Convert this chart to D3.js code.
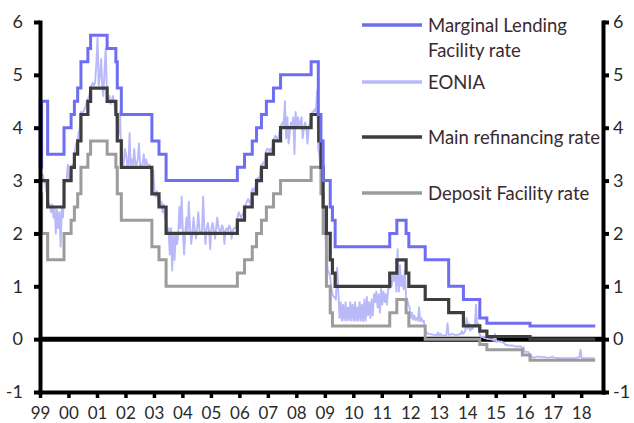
<!DOCTYPE html>
<html>
<head>
<meta charset="utf-8">
<script src="https://cdn.jsdelivr.net/npm/d3@7"></script>
<style>
  body { margin: 0; background: #fff; }
  svg { display: block; font-family: Lato, "Liberation Sans", sans-serif; }
</style>
</head>
<body>
<svg id="chart" width="634" height="423"></svg>
<script>
// policy rate change dates (last one is just the end of the sample)
var changeDates = [
  "1999-01-01","1999-01-04","1999-01-22","1999-04-09","1999-11-05",
  "2000-02-04","2000-03-17","2000-04-28","2000-06-09","2000-09-06","2000-10-11",
  "2001-05-11","2001-08-31","2001-09-18","2001-11-09",
  "2002-12-06","2003-03-07","2003-06-06",
  "2005-12-06","2006-03-08","2006-06-15","2006-08-09","2006-10-11","2006-12-13",
  "2007-03-14","2007-06-13","2008-07-09",
  "2008-10-09","2008-10-15","2008-11-12","2008-12-10",
  "2009-01-21","2009-03-11","2009-04-08","2009-05-13",
  "2011-04-13","2011-07-13","2011-11-09","2011-12-14",
  "2012-07-11","2013-05-08","2013-11-13","2014-06-11","2014-09-10",
  "2015-12-09","2016-03-16","2018-06-30"
];

var marginalLending = [
  4.5, 3.25, 4.5, 3.5, 4.0,
  4.25, 4.5, 4.75, 5.25, 5.5, 5.75,
  5.5, 5.25, 4.75, 4.25,
  3.75, 3.5, 3.0,
  3.25, 3.5, 3.75, 4.0, 4.25, 4.5,
  4.75, 5.0, 5.25,
  4.25, 4.25, 3.75, 3.0,
  3.0, 2.5, 2.25, 1.75,
  2.0, 2.25, 2.0, 1.75,
  1.5, 1.0, 0.75, 0.4, 0.3,
  0.3, 0.25, 0.25
];

var mainRefi = [
  3.0, 3.0, 3.0, 2.5, 3.0,
  3.25, 3.5, 3.75, 4.25, 4.5, 4.75,
  4.5, 4.25, 3.75, 3.25,
  2.75, 2.5, 2.0,
  2.25, 2.5, 2.75, 3.0, 3.25, 3.5,
  3.75, 4.0, 4.25,
  4.25, 3.75, 3.25, 2.5,
  2.0, 1.5, 1.25, 1.0,
  1.25, 1.5, 1.25, 1.0,
  0.75, 0.5, 0.25, 0.15, 0.05,
  0.05, 0.0, 0.0
];

var depositFacility = [
  2.0, 2.75, 2.0, 1.5, 2.0,
  2.25, 2.5, 2.75, 3.25, 3.5, 3.75,
  3.5, 3.25, 2.75, 2.25,
  1.75, 1.5, 1.0,
  1.25, 1.5, 1.75, 2.0, 2.25, 2.5,
  2.75, 3.0, 3.25,
  3.25, 3.25, 2.75, 2.0,
  1.0, 0.5, 0.25, 0.25,
  0.5, 0.75, 0.5, 0.25,
  0.0, 0.0, 0.0, -0.1, -0.2,
  -0.3, -0.4, -0.4
];

// EONIA, two readings a month (around the 8th and the 23rd), Jan 1999 - Jun 2018
var eonia = [
  3.2,3.1, 3.1,3.0, 2.95,2.8, 2.7,2.55, 2.55,2.4, 2.55,2.3, 2.5,2.0, 2.45,2.1, 2.4,1.75, 2.5,2.3, 2.9,3.0, 3.0,3.3,
  3.05,3.0, 3.25,3.3, 3.3,3.55, 3.7,3.65, 3.9,3.95, 4.3,4.25, 4.3,4.35, 4.4,4.5, 4.55,4.6, 4.75,4.8, 4.85,4.8, 4.85,5.2,
  5.7,4.8, 5.0,5.3, 4.8,4.6, 5.1,5.5, 4.7,4.5, 4.6,4.45, 4.5,4.6, 4.5,4.3, 4.2,3.8, 3.9,4.3, 3.5,3.3, 3.3,3.6,
  3.5,3.3, 3.3,3.9, 3.3,3.4, 3.3,3.6, 3.3,3.3, 3.4,3.7, 3.3,3.3, 3.3,3.5, 3.3,3.4, 3.3,3.3, 3.3,3.2, 3.0,3.2,
  2.8,2.7, 2.8,2.6, 2.7,2.5, 2.6,2.4, 2.55,2.3, 2.2,2.0, 2.1,1.6, 2.1,1.3, 2.0,1.5, 2.0,1.8, 1.95,2.5, 2.1,2.7,
  2.0,1.6, 2.05,2.3, 2.0,2.6, 2.1,1.8, 2.0,2.3, 2.05,1.9, 2.1,2.4, 2.05,2.0, 2.05,2.7, 2.1,1.8, 2.1,2.2, 2.05,1.7,
  2.1,2.2, 2.05,1.9, 2.1,2.3, 2.1,2.05, 2.05,2.15, 2.1,1.8, 2.05,2.1, 2.05,2.15, 2.1,1.9, 2.05,2.1, 2.1,2.15, 2.3,2.4,
  2.35,2.3, 2.35,2.4, 2.5,2.55, 2.6,2.65, 2.6,2.55, 2.8,2.85, 2.8,2.85, 3.0,3.05, 3.05,3.1, 3.3,3.3, 3.35,3.3, 3.55,3.6,
  3.6,3.55, 3.6,3.55, 3.75,3.8, 3.85,3.8, 3.8,3.85, 4.0,4.05, 4.1,4.05, 4.5,3.8, 4.2,3.7, 3.9,4.1, 4.0,4.2, 3.5,4.3,
  4.0,4.2, 4.0,4.1, 4.2,3.8, 4.0,4.1, 4.0,3.7, 4.0,4.1, 4.2,4.3, 4.3,4.35, 4.3,4.7, 3.6,3.5, 3.2,3.1, 2.6,2.4,
  2.0,1.6, 1.3,1.25, 1.2,1.0, 0.85,0.8, 0.8,0.75, 1.35,0.9, 0.4,0.7, 0.35,0.65, 0.36,0.7, 0.35,0.6, 0.36,0.7, 0.35,0.65,
  0.35,0.7, 0.35,0.6, 0.35,0.7, 0.35,0.65, 0.34,0.75, 0.35,0.8, 0.45,0.7, 0.4,0.75, 0.45,0.85, 0.7,0.9, 0.6,0.85, 0.5,0.95,
  0.65,0.9, 0.7,0.85, 0.65,0.95, 0.95,1.1, 1.0,1.25, 1.1,1.2, 0.9,1.7, 0.9,1.4, 1.0,1.2, 0.95,1.3, 0.8,0.75, 0.65,0.6,
  0.4,0.5, 0.37,0.45, 0.36,0.4, 0.35,0.6, 0.34,0.4, 0.33,0.35, 0.2,0.13, 0.11,0.1, 0.1,0.09, 0.09,0.08, 0.08,0.08, 0.07,0.13,
  0.07,0.1, 0.07,0.07, 0.07,0.07, 0.08,0.3, 0.08,0.08, 0.09,0.1, 0.09,0.08, 0.08,0.08, 0.08,0.1, 0.09,0.15, 0.1,0.12, 0.17,0.4,
  0.2,0.3, 0.16,0.2, 0.19,0.25, 0.25,0.65, 0.25,0.3, 0.1,0.05, 0.04,0.05, 0.02,0.02, 0.01,0.0, 0.0,0.0, -0.01,0.0, -0.03,0.1,
  -0.05,-0.04, -0.04,-0.05, -0.05,-0.05, -0.07,-0.08, -0.11,-0.11, -0.12,-0.12, -0.12,-0.12, -0.12,-0.13, -0.14,-0.14, -0.14,-0.14, -0.13,-0.14, -0.2,-0.15,
  -0.24,-0.24, -0.24,-0.24, -0.29,-0.3, -0.34,-0.34, -0.35,-0.35, -0.33,-0.33, -0.33,-0.33, -0.34,-0.34, -0.34,-0.34, -0.35,-0.35, -0.35,-0.35, -0.35,-0.33,
  -0.35,-0.35, -0.35,-0.36, -0.36,-0.36, -0.36,-0.36, -0.36,-0.36, -0.36,-0.36, -0.36,-0.36, -0.36,-0.36, -0.36,-0.36, -0.36,-0.36, -0.35,-0.35, -0.34,-0.2,
  -0.36,-0.36, -0.36,-0.37, -0.36,-0.36, -0.36,-0.36, -0.36,-0.36, -0.36,-0.36
];

var yTicks = [-1, 0, 1, 2, 3, 4, 5, 6];

var legendItems = [
  {label: ["Marginal Lending", "Facility rate"], color: "#6e6ef2"},
  {label: ["EONIA"], color: "#b9b9fa"},
  {label: ["Main refinancing rate"], color: "#3d3d3d"},
  {label: ["Deposit Facility rate"], color: "#9c9c9c"}
];

var parseDate = d3.timeParse("%Y-%m-%d");

var svg = d3.select("#chart");

// plot box (window.top is taken, so no plain "top" here)
var plotLeft = 40, plotRight = 603, plotTop = 22, plotBottom = 392;

var x = d3.scaleTime()
  .domain([new Date(1999, 0, 1), new Date(2018, 9, 8)])
  .range([plotLeft, plotRight]);

var y = d3.scaleLinear()
  .domain([-1, 6])
  .range([plotBottom, plotTop]);

// zero line first so the rate lines sit on top of it
svg.append("line")
  .attr("x1", plotLeft).attr("x2", plotRight)
  .attr("y1", y(0)).attr("y2", y(0))
  .attr("stroke", "#000")
  .attr("stroke-width", 5);

// build step series
function stepSeries(values) {
  return changeDates.map(function(d, i) { return {date: parseDate(d), value: values[i]}; });
}

var eoniaData = eonia.map(function(v, i) {
  var yr = 1999 + Math.floor(i / 24);
  var mo = Math.floor((i % 24) / 2);
  var day = (i % 2 == 0) ? 8 : 23;
  return {date: new Date(yr, mo, day), value: v};
});

var stepLine = d3.line()
  .x(function(d) { return x(d.date); })
  .y(function(d) { return y(d.value); })
  .curve(d3.curveStepAfter);

var plainLine = d3.line()
  .x(function(d) { return x(d.date); })
  .y(function(d) { return y(d.value); });

svg.append("path")
  .datum(eoniaData)
  .attr("d", plainLine)
  .attr("fill", "none")
  .attr("stroke", legendItems[1].color)
  .attr("stroke-width", 1.9)
  .attr("stroke-linejoin", "round");

svg.append("path")
  .datum(stepSeries(depositFacility))
  .attr("d", stepLine)
  .attr("fill", "none")
  .attr("stroke", legendItems[3].color)
  .attr("stroke-width", 3);

svg.append("path")
  .datum(stepSeries(mainRefi))
  .attr("d", stepLine)
  .attr("fill", "none")
  .attr("stroke", legendItems[2].color)
  .attr("stroke-width", 3.2);

svg.append("path")
  .datum(stepSeries(marginalLending))
  .attr("d", stepLine)
  .attr("fill", "none")
  .attr("stroke", legendItems[0].color)
  .attr("stroke-width", 3);

// AXES
function styleAxis(g) {
  g.select(".domain")
    .attr("stroke", "#000")
    .attr("stroke-width", 4)
    .attr("stroke-linecap", "square");
  g.selectAll(".tick line")
    .attr("stroke", "#000")
    .attr("stroke-width", 4);
  g.selectAll(".tick text")
    .attr("fill", "#2a2a2a")
    .style("font-family", "Lato, sans-serif")
    .style("font-size", "18px");
}

// plain hyphen for the minus, like the original
var numFormat = function(d) { return String(d); };

var leftAxis = d3.axisLeft(y)
  .tickValues(yTicks)
  .tickFormat(numFormat)
  .tickSizeInner(6).tickSizeOuter(0).tickPadding(11);

var rightAxis = d3.axisRight(y)
  .tickValues(yTicks)
  .tickFormat(numFormat)
  .tickSizeInner(6).tickSizeOuter(0).tickPadding(4);

var bottomAxis = d3.axisBottom(x)
  .ticks(d3.timeYear.every(1))
  .tickFormat(d3.timeFormat("%y"))
  .tickSizeInner(6).tickSizeOuter(0).tickPadding(9);

svg.append("g")
  .attr("transform", "translate(" + plotLeft + ",0)")
  .call(leftAxis)
  .call(styleAxis);

svg.append("g")
  .attr("transform", "translate(" + plotRight + ",0)")
  .call(rightAxis)
  .call(styleAxis);

var xAxisG = svg.append("g")
  .attr("transform", "translate(0," + plotBottom + ")")
  .call(bottomAxis)
  .call(styleAxis);

xAxisG.selectAll(".tick line").attr("stroke-width", 3.5);
xAxisG.selectAll(".tick text").style("font-size", "17px");

// LEGEND
var legendY = [25, 82, 137, 193];

var legend = svg.append("g");

legendItems.forEach(function(item, i) {
  legend.append("line")
    .attr("x1", 362).attr("x2", 422)
    .attr("y1", legendY[i]).attr("y2", legendY[i])
    .attr("stroke", item.color)
    .attr("stroke-width", 3.5);

  item.label.forEach(function(t, j) {
    legend.append("text")
      .attr("x", 428)
      .attr("y", legendY[i] + 7 + j * 25)
      .attr("fill", "#3a2a30")
      .style("font-size", "18.5px")
      .text(t);
  });
});
</script>
</body>
</html>
